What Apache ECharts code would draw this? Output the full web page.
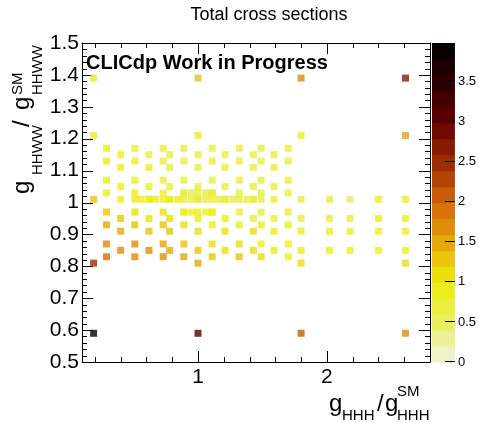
<!DOCTYPE html>
<html>
<head>
<meta charset="utf-8">
<script src="https://cdn.jsdelivr.net/npm/echarts@6/dist/echarts.min.js"></script>
<style>
  html, body { margin: 0; padding: 0; background: #fff; }
  #chart { width: 479px; height: 423px; }
</style>
</head>
<body>
<div id="chart"></div>
<script>
// gHHH columns of the staggered scan grid
const gHHH_A = [0.29, 0.51, 0.73, 0.89, 1.11, 1.32, 1.49, 1.70];
const gHHH_B = [0.40, 0.62, 0.78, 1.00, 1.21, 1.43, 1.59];
const gHHH_far = [1.80, 2.02, 2.18, 2.40, 2.61];
const gHHH_outer = [0.19, 1.00, 1.80, 2.61];
// fine scan along gHHWW ~ 1
const gHHH_line = [0.51, 0.56, 0.62, 0.67, 0.73, 0.78, 0.84, 0.89, 0.95, 1.00, 1.06, 1.11, 1.16, 1.21, 1.27, 1.32, 1.38, 1.43, 1.49];
const gHHH_core = [0.89, 0.95, 1.00, 1.06, 1.11];

// rows on the A columns: [gHHWW, cross sections]
const rowsA = [
  [1.17, [0.90, 0.75, 0.75, 0.75, 0.75, 0.75, 0.75, 0.75]],
  [1.13, [0.90, 0.80, 0.75, 0.75, 0.75, 0.75, 0.75, 0.75]],
  [1.07, [0.95, 0.85, 0.75, 0.75, 0.75, 0.75, 0.75, 0.75]],
  [1.03, [0.95, 0.90, 0.75, 0.75, 0.75, 0.75, 0.75, 0.75]],
  [0.97, [1.30, 1.10, 1.05, 0.90, 0.90, 0.75, 0.75, 0.75]],
  [0.93, [1.45, 1.30, 1.35, 1.10, 0.95, 0.90, 0.90, 0.85]],
  [0.87, [1.75, 1.60, 1.45, 1.30, 1.10, 1.10, 0.90, 0.90]],
  [0.83, [1.90, 1.75, 1.60, 1.45, 1.25, 1.25, 1.05, 0.95]]
];
// rows on the B columns
const rowsB = [
  [1.15, [0.85, 0.75, 0.75, 0.75, 0.75, 0.75, 0.75]],
  [1.11, [0.90, 0.80, 0.75, 0.75, 0.75, 0.75, 0.75]],
  [1.05, [0.95, 0.85, 0.75, 0.75, 0.75, 0.75, 0.75]],
  [1.01, [0.95, 0.90, 0.90, 0.75, 0.75, 0.75, 0.75]],
  [0.95, [1.25, 1.10, 1.05, 0.95, 0.85, 0.75, 0.75]],
  [0.91, [1.45, 1.30, 1.35, 1.10, 1.05, 1.05, 0.90]],
  [0.85, [1.75, 1.65, 1.45, 1.30, 1.10, 1.10, 0.90]]
];
// rows on the far columns
const rowsFar = [
  [1.01, [0.70, 0.70, 0.55, 0.85, 0.85]],
  [0.95, [0.70, 0.70, 0.60, 0.90, 0.90]],
  [0.91, [0.90, 0.90, 0.90, 0.90, 0.90]],
  [0.85, [0.90, 0.90, 0.90, 0.90, 0.90]]
];
// coarse outer grid (null = no point)
const rowsOuter = [
  [1.39, [0.90, 1.20, 1.65, 2.70]],
  [1.21, [0.90, 0.90, 0.95, 1.45]],
  [1.01, [1.30, null, null, null]],
  [0.81, [2.50, 1.50, 1.05, 1.05]],
  [0.59, [3.90, 3.00, 2.10, 1.70]]
];
// fine line scans
const lineRow = [1.01, [0.90, 0.90, 0.90, 0.90, 0.90, 0.90, 0.90, 0.90, 0.75, 0.75, 0.75, 0.75, 0.75, 0.75, 0.75, 0.75, 0.75, 0.75, 0.75]];
const coreRows = [
  [1.03, [0.75, 0.75, 0.75, 0.75, 0.75]],
  [0.97, [0.90, 0.90, 0.90, 0.90, 0.90]]
];

// colour scale
const zMax = 3.98;
const palette = ['#F0F2CB', '#EDF095', '#EAEE5F', '#EBEE3D', '#ECEE1C', '#ECE00A', '#E9C409', '#E6A808', '#DF8D08', '#D87209',
                 '#C95A08', '#B24406', '#9C2D03', '#861B02', '#6F0901', '#580001', '#420001', '#2D0001', '#1B0001', '#090000'];
const zTicks = [0, 0.5, 1, 1.5, 2, 2.5, 3, 3.5];
const xLabels = [1, 2];
const xMajorTicks = [1, 2];
const xMinorTicks = [0.2, 0.4, 0.6, 0.8, 1.2, 1.4, 1.6, 1.8, 2.2, 2.4, 2.6];
const yMin = 0.5, yMax = 1.5, yStep = 0.1, yMinorDiv = 5;

const points = [];
function addRows(xs, rows) {
  rows.forEach(([y, zs]) => xs.forEach((x, i) => { if (zs[i] != null) points.push([x, y, zs[i]]); }));
}
addRows(gHHH_A, rowsA);
addRows(gHHH_B, rowsB);
addRows(gHHH_line, [lineRow]);
addRows(gHHH_core, coreRows);
addRows(gHHH_far, rowsFar);
addRows(gHHH_outer, rowsOuter);

const nBands = palette.length;
const bands = palette.map((c, i) => [i * zMax / nBands, (i + 1) * zMax / nBands, i]);
const pieces = bands.map(b => ({ gte: b[0], lt: b[1], color: palette[b[2]] }));
pieces[nBands - 1].lte = 100; delete pieces[nBands - 1].lt;

// frame ticks: [value, 0 = x / 1 = y, length in px]
const MAJOR = 11, MINOR = 5;
const frameTicks = [];
xMajorTicks.forEach(v => frameTicks.push([v, 0, MAJOR]));
xMinorTicks.forEach(v => frameTicks.push([v, 0, MINOR]));
const nY = Math.round((yMax - yMin) / yStep * yMinorDiv);
for (let k = 0; k <= nY; k++) {
  const v = +(yMin + k * yStep / yMinorDiv).toFixed(4);
  frameTicks.push([v, 1, k % yMinorDiv === 0 ? MAJOR : MINOR]);
}

const FONT = 'Liberation Sans';
const black = '#000';
const line = { show: true, lineStyle: { color: black, width: 1 } };

function seg(x1, y1, x2, y2) {
  return { type: 'line', shape: { x1: x1, y1: y1, x2: x2, y2: y2 }, style: { stroke: black, lineWidth: 1 } };
}

function txt(x, y, s, size, opts) {
  return Object.assign({
    type: 'text', x: x, y: y, silent: true,
    style: { text: s, fontSize: size, fontFamily: FONT, fill: black, align: 'left', verticalAlign: 'middle' }
  }, opts || {});
}
const rot = { rotation: Math.PI / 2 };

const chart = echarts.init(document.getElementById('chart'), null, { renderer: 'canvas' });
chart.setOption({
  animation: false,
  backgroundColor: '#fff',
  grid: [
    { left: 82, right: 49, top: 43, bottom: 61, show: false },
    { left: 432, width: 23, top: 43, bottom: 61, show: false }
  ],
  xAxis: [
    {
      type: 'value', gridIndex: 0, position: 'bottom', min: 0.1, max: 2.8,
      axisLine: line, splitLine: { show: false }, axisTick: { show: false },
      axisLabel: { show: true, customValues: xLabels, fontSize: 21, color: black, fontFamily: FONT, margin: 5 }
    },
    {
      type: 'value', gridIndex: 0, position: 'top', min: 0.1, max: 2.8,
      axisLine: line, splitLine: { show: false }, axisTick: { show: false }, axisLabel: { show: false }
    },
    { type: 'value', gridIndex: 1, min: 0, max: 1, show: false }
  ],
  yAxis: [
    {
      type: 'value', gridIndex: 0, position: 'left', min: yMin, max: yMax, interval: yStep,
      axisLine: line, splitLine: { show: false }, axisTick: { show: false },
      axisLabel: { show: true, fontSize: 21, color: black, fontFamily: FONT, margin: 3 }
    },
    {
      type: 'value', gridIndex: 0, position: 'right', min: yMin, max: yMax, interval: yStep,
      axisLine: line, splitLine: { show: false }, axisTick: { show: false }, axisLabel: { show: false }
    },
    {
      type: 'value', gridIndex: 1, position: 'right', min: 0, max: zMax,
      axisLine: { show: false }, splitLine: { show: false }, axisTick: { show: false },
      axisLabel: { show: true, customValues: zTicks, fontSize: 13, color: black, fontFamily: FONT, margin: 3 }
    }
  ],
  visualMap: {
    type: 'piecewise', show: false, seriesIndex: 0, dimension: 2, pieces: pieces
  },
  series: [
    {
      type: 'scatter', xAxisIndex: 0, yAxisIndex: 0, data: points,
      symbol: 'rect', symbolSize: 7, z: 3
    },
    {
      // colour scale bar
      type: 'custom', xAxisIndex: 2, yAxisIndex: 2, data: bands,
      encode: { y: [0, 1] },
      renderItem: function (params, api) {
        const a = api.coord([0, api.value(0)]);
        const b = api.coord([1, api.value(1)]);
        return {
          type: 'rect',
          shape: { x: a[0], y: b[1], width: b[0] - a[0], height: a[1] - b[1] + 0.6 },
          style: { fill: palette[api.value(2)] }
        };
      },
      z: 1, silent: true
    },
    {
      // colour scale ticks
      type: 'custom', xAxisIndex: 2, yAxisIndex: 2, data: zTicks.map(v => [v]),
      encode: { y: 0 },
      renderItem: function (params, api) {
        const cs = params.coordSys;
        const y = Math.round(api.coord([0, api.value(0)])[1]) - 0.5;
        const xr = cs.x + cs.width;
        return seg(xr - 10, y, xr, y);
      },
      z: 2, silent: true
    },
    {
      // ticks on all four sides of the frame
      type: 'custom', xAxisIndex: 0, yAxisIndex: 0, data: frameTicks,
      encode: { x: 0 },
      clip: false,
      renderItem: function (params, api) {
        const cs = params.coordSys;
        const v = api.value(0), dir = api.value(1), len = api.value(2);
        if (dir === 0) {
          const x = Math.round(api.coord([v, yMin])[0]) + 0.5;
          const yb = cs.y + cs.height, yt = cs.y;
          return { type: 'group', children: [seg(x, yb, x, yb - len), seg(x, yt, x, yt + len)] };
        }
        const y = Math.round(api.coord([1, v])[1]) + 0.5;
        const xl = cs.x, xr = cs.x + cs.width;
        return { type: 'group', children: [seg(xl, y, xl + len, y), seg(xr, y, xr - len, y)] };
      },
      z: 2, silent: true
    }
  ],
  graphic: [
    txt(269, 15, 'Total cross sections', 18, { style: { text: 'Total cross sections', fontSize: 18, fontFamily: FONT, fill: black, align: 'center', verticalAlign: 'middle' } }),
    txt(86, 63, 'CLICdp Work in Progress', 20, { style: { text: 'CLICdp Work in Progress', fontSize: 20, fontWeight: 'bold', fontFamily: FONT, fill: black, align: 'left', verticalAlign: 'middle' } }),
    // x title
    txt(329, 404, 'g', 24),
    txt(342, 416, 'HHH', 15),
    txt(377, 404, '/', 24),
    txt(385, 404, 'g', 24),
    txt(397, 392, 'SM', 15),
    txt(397, 416, 'HHH', 15),
    // y title (rotated)
    txt(22, 194, 'g', 24, rot),
    txt(38, 175, 'HHWW', 15, rot),
    txt(22, 127, '/', 24, rot),
    txt(22, 110, 'g', 24, rot),
    txt(18, 95, 'SM', 15, rot),
    txt(38, 95, 'HHWW', 15, rot)
  ]
});
</script>
</body>
</html>
